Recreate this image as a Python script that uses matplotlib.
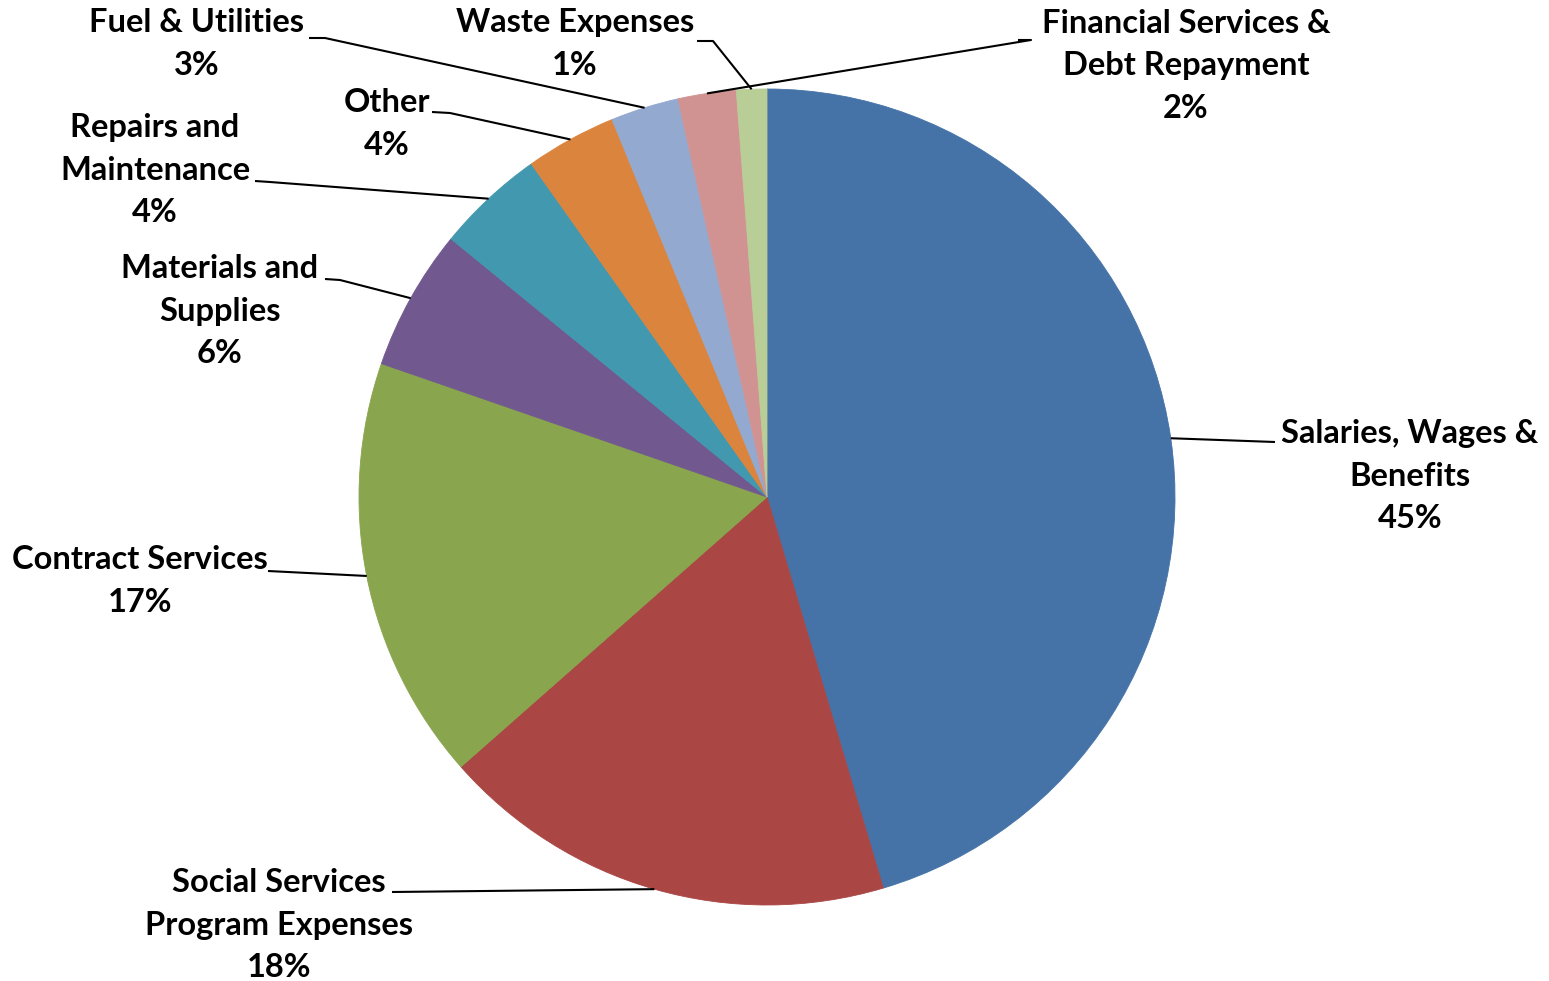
import numpy as np
import matplotlib
matplotlib.use('Agg')
from matplotlib import pyplot as plt

# expense categories, clockwise from 12 o'clock
categories = ['Salaries, Wages &\nBenefits', 'Social Services\nProgram Expenses',
              'Contract Services', 'Materials and\nSupplies', 'Repairs and\nMaintenance',
              'Other', 'Fuel & Utilities', 'Financial Services &\nDebt Repayment',
              'Waste Expenses']
shares = [45.4, 18.1, 16.8, 5.6, 4.3, 3.6, 2.7, 2.3, 1.2]
colors = ['#4572A7', '#AA4643', '#89A54E', '#71588F', '#4198AF',
          '#DB843D', '#93A9CF', '#D19392', '#B9CD96']

# label centre, then the elbow and end of each leader line (pixels from top-left)
label_pos = [(1410, 476), (279, 925), (140, 581), (220, 311), (155, 170),
             (387, 124), (197, 44), (1186, 66), (575, 44)]
leader_pts = [[(1275, 442)], [(392, 892)], [(268, 571)], [(340, 280), (325, 279)],
              [(270, 182), (255, 181)], [(450, 113), (432, 112)],
              [(325, 38), (309, 38)], [(1031, 40), (1018, 40)], [(713, 41), (697, 41)]]

W, H = 1549, 981
fig = plt.figure(figsize=(W / 100, H / 100), dpi=100)
ax = fig.add_axes([0, 0, 1, 1])

cx, cy, r = 767, 497, 408
wedges, _ = ax.pie(shares, colors=colors, startangle=-90, counterclock=True,
                   center=(cx, cy), radius=r, wedgeprops=dict(linewidth=0.6))
for w, c in zip(wedges, colors):
    w.set_edgecolor(c)
ax.set_xlim(0, W)
ax.set_ylim(H, 0)
ax.set_aspect('equal')
ax.axis('off')

for w, name, val, (tx, ty), pts in zip(wedges, categories, shares, label_pos, leader_pts):
    mid = np.deg2rad((w.theta1 + w.theta2) / 2)
    ax_pt = (cx + r * np.cos(mid), cy + r * np.sin(mid))
    xs = [ax_pt[0]] + [p[0] for p in pts]
    ys = [ax_pt[1]] + [p[1] for p in pts]
    ax.plot(xs, ys, color='black', lw=1.5, solid_capstyle='butt')
    ax.text(tx, ty, '%s\n%d%%' % (name, round(val)), ha='center', va='center',
            multialignment='center', fontsize=23.5, fontweight='bold',
            family='Lato', linespacing=1.57, color='black')

fig.savefig('out.png', dpi=100)
